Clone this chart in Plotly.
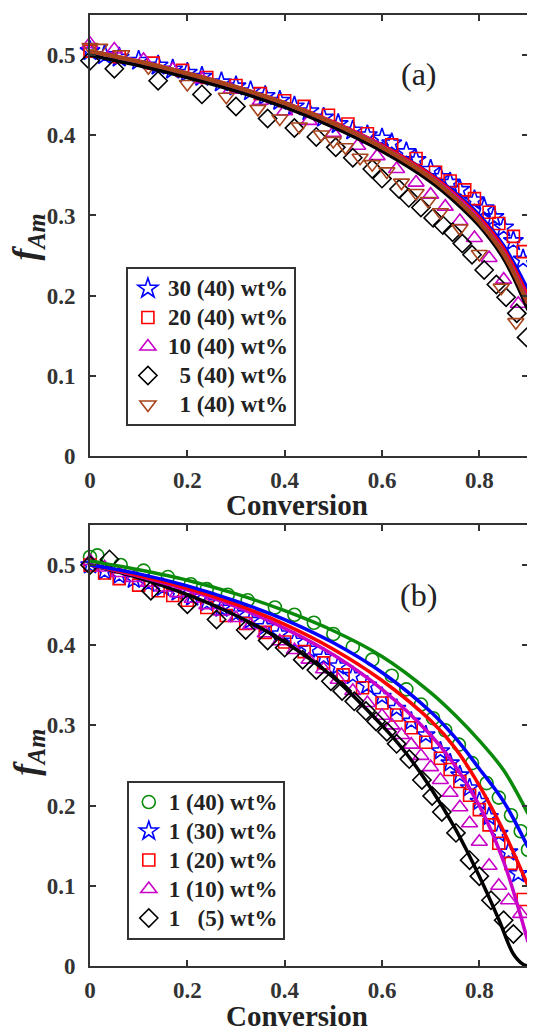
import plotly.graph_objects as go

# ---------------- data: panel (a) ----------------
a_labels = ["30 (40) wt%", "20 (40) wt%", "10 (40) wt%", "\u20075 (40) wt%", "\u20071 (40) wt%"]

a30_x = [0.00, 0.03, 0.06, 0.10, 0.14, 0.17, 0.20, 0.23, 0.27, 0.30, 0.33, 0.36, 0.39, 0.42, 0.45, 0.48, 0.51,
         0.54, 0.57, 0.60, 0.62, 0.65, 0.67, 0.70, 0.72, 0.74, 0.76, 0.79, 0.81, 0.83, 0.85, 0.87, 0.89]
a30_y = [0.505, 0.500, 0.497, 0.493, 0.487, 0.482, 0.478, 0.473, 0.466, 0.461, 0.455, 0.449, 0.443, 0.436, 0.430,
         0.422, 0.414, 0.406, 0.400, 0.396, 0.390, 0.379, 0.369, 0.357, 0.348, 0.341, 0.332, 0.319, 0.309, 0.298,
         0.285, 0.268, 0.245]

a20_x = [0.00, 0.06, 0.13, 0.19, 0.24, 0.30, 0.35, 0.40, 0.44, 0.49, 0.53, 0.57, 0.62, 0.67, 0.71, 0.74, 0.77,
         0.79, 0.82, 0.84, 0.87, 0.89]
a20_y = [0.505, 0.498, 0.490, 0.481, 0.472, 0.462, 0.452, 0.443, 0.436, 0.425, 0.414, 0.402, 0.388, 0.371, 0.354,
         0.343, 0.332, 0.321, 0.304, 0.290, 0.274, 0.255]

a10_x = [0.00, 0.05, 0.11, 0.17, 0.23, 0.29, 0.35, 0.40, 0.45, 0.50, 0.55, 0.59, 0.63, 0.67, 0.70, 0.73, 0.76,
         0.79, 0.82, 0.85, 0.88]
a10_y = [0.514, 0.507, 0.494, 0.482, 0.470, 0.457, 0.443, 0.430, 0.418, 0.403, 0.387, 0.374, 0.358, 0.341, 0.326,
         0.311, 0.293, 0.272, 0.247, 0.220, 0.190]

a5_x = [0.00, 0.05, 0.14, 0.23, 0.30, 0.365, 0.42, 0.465, 0.505, 0.54, 0.58, 0.60, 0.635, 0.655, 0.68, 0.705,
        0.725, 0.745, 0.765, 0.785, 0.81, 0.835, 0.855, 0.877, 0.897]
a5_y = [0.493, 0.483, 0.468, 0.451, 0.436, 0.421, 0.409, 0.398, 0.385, 0.372, 0.358, 0.346, 0.333, 0.322, 0.310,
        0.297, 0.288, 0.279, 0.265, 0.251, 0.232, 0.214, 0.198, 0.178, 0.148]

a1_x = [0.00, 0.02, 0.065, 0.12, 0.20, 0.28, 0.345, 0.39, 0.43, 0.475, 0.50, 0.525, 0.555, 0.58, 0.61, 0.64,
        0.67, 0.695, 0.72, 0.76, 0.80, 0.845, 0.875]
a1_y = [0.510, 0.509, 0.501, 0.485, 0.464, 0.448, 0.433, 0.421, 0.411, 0.401, 0.393, 0.385, 0.372, 0.364, 0.355,
        0.341, 0.328, 0.318, 0.304, 0.284, 0.252, 0.210, 0.167]

# fitted model curves, panel (a)
fit_x = [0.0, 0.1, 0.2, 0.3, 0.4, 0.5, 0.6, 0.7, 0.75, 0.8, 0.85, 0.9]
fa30 = [0.500, 0.488, 0.474, 0.458, 0.439, 0.416, 0.388, 0.352, 0.329, 0.301, 0.263, 0.208]
fa20 = [0.505, 0.492, 0.477, 0.460, 0.441, 0.417, 0.388, 0.351, 0.327, 0.298, 0.259, 0.200]
fa10 = [0.505, 0.493, 0.478, 0.461, 0.441, 0.416, 0.387, 0.349, 0.325, 0.295, 0.255, 0.195]
fa5 = [0.500, 0.487, 0.472, 0.455, 0.435, 0.410, 0.380, 0.342, 0.317, 0.287, 0.246, 0.182]
fa1 = [0.505, 0.492, 0.477, 0.460, 0.440, 0.415, 0.385, 0.347, 0.322, 0.292, 0.252, 0.190]

# ---------------- data: panel (b) ----------------
b_labels = ["1 (40) wt%", "1 (30) wt%", "1 (20) wt%", "1 (10) wt%", "1 \u2007(5) wt%"]

b40_x = [0.00, 0.015, 0.063, 0.11, 0.16, 0.207, 0.24, 0.283, 0.324, 0.38, 0.42, 0.46, 0.50, 0.54, 0.58, 0.62,
         0.65, 0.68, 0.705, 0.73, 0.758, 0.785, 0.815, 0.84, 0.865, 0.885, 0.90]
b40_y = [0.510, 0.512, 0.500, 0.493, 0.485, 0.476, 0.470, 0.463, 0.456, 0.447, 0.438, 0.428, 0.414, 0.398, 0.382,
         0.362, 0.345, 0.326, 0.309, 0.294, 0.276, 0.253, 0.228, 0.210, 0.188, 0.168, 0.145]

b30_x = [0.00, 0.03, 0.06, 0.09, 0.12, 0.15, 0.18, 0.21, 0.24, 0.27, 0.30, 0.33, 0.36, 0.39, 0.42, 0.45, 0.48,
         0.51, 0.54, 0.57, 0.60, 0.63, 0.66, 0.69, 0.72, 0.74, 0.76, 0.78, 0.80, 0.82, 0.84, 0.86, 0.88]
b30_y = [0.500, 0.492, 0.487, 0.482, 0.477, 0.472, 0.466, 0.460, 0.453, 0.446, 0.439, 0.431, 0.423, 0.414, 0.405,
         0.395, 0.385, 0.374, 0.362, 0.350, 0.336, 0.321, 0.305, 0.288, 0.268, 0.253, 0.238, 0.222, 0.205, 0.186,
         0.165, 0.142, 0.115]

b20_x = [0.00, 0.03, 0.06, 0.10, 0.14, 0.17, 0.20, 0.24, 0.28, 0.32, 0.36, 0.40, 0.44, 0.48, 0.52, 0.56, 0.60,
         0.63, 0.66, 0.69, 0.72, 0.74, 0.76, 0.78, 0.80, 0.82, 0.84, 0.865, 0.89]
b20_y = [0.500, 0.490, 0.483, 0.475, 0.468, 0.462, 0.456, 0.447, 0.437, 0.427, 0.416, 0.404, 0.392, 0.378, 0.363,
         0.347, 0.328, 0.313, 0.297, 0.279, 0.259, 0.245, 0.230, 0.213, 0.195, 0.176, 0.153, 0.128, 0.083]

b10_x = [0.00, 0.03, 0.06, 0.09, 0.12, 0.15, 0.18, 0.21, 0.24, 0.27, 0.30, 0.33, 0.36, 0.39, 0.42, 0.45, 0.48,
         0.51, 0.54, 0.57, 0.60, 0.62, 0.64, 0.66, 0.68, 0.70, 0.72, 0.74, 0.76, 0.78, 0.80, 0.82, 0.84, 0.86, 0.885]
b10_y = [0.505, 0.497, 0.490, 0.484, 0.478, 0.472, 0.465, 0.458, 0.450, 0.442, 0.434, 0.425, 0.415, 0.405, 0.394,
         0.382, 0.370, 0.357, 0.343, 0.328, 0.312, 0.300, 0.288, 0.276, 0.262, 0.248, 0.232, 0.216, 0.198, 0.178,
         0.155, 0.125, 0.100, 0.082, 0.065]

b5_x = [0.00, 0.04, 0.125, 0.20, 0.26, 0.32, 0.365, 0.40, 0.437, 0.465, 0.495, 0.518, 0.543, 0.567, 0.588, 0.61,
        0.63, 0.656, 0.682, 0.703, 0.723, 0.752, 0.78, 0.80, 0.824, 0.85, 0.87]
b5_y = [0.500, 0.507, 0.468, 0.451, 0.432, 0.419, 0.406, 0.397, 0.382, 0.369, 0.355, 0.343, 0.330, 0.318, 0.305,
        0.292, 0.277, 0.258, 0.232, 0.212, 0.192, 0.166, 0.132, 0.112, 0.082, 0.057, 0.040]

# fitted model curves, panel (b)
fb40 = [0.505, 0.494, 0.481, 0.464, 0.443, 0.418, 0.386, 0.341, 0.313, 0.281, 0.244, 0.190]
fb30 = [0.500, 0.489, 0.474, 0.455, 0.432, 0.403, 0.366, 0.317, 0.285, 0.246, 0.205, 0.148]
fb20 = [0.500, 0.487, 0.471, 0.451, 0.426, 0.395, 0.356, 0.306, 0.272, 0.225, 0.168, 0.100]
fb10 = [0.500, 0.486, 0.469, 0.448, 0.421, 0.388, 0.345, 0.288, 0.250, 0.200, 0.130, 0.030]
fb5_x = [0.0, 0.1, 0.2, 0.3, 0.4, 0.5, 0.6, 0.65, 0.7, 0.75, 0.8, 0.84, 0.87, 0.89, 0.9]
fb5 = [0.500, 0.484, 0.463, 0.437, 0.404, 0.360, 0.300, 0.265, 0.222, 0.172, 0.112, 0.058, 0.015, 0.002, 0.0]

x_ticks = [0, 0.2, 0.4, 0.6, 0.8]
x_ticktext = ["0", "0.2", "0.4", "0.6", "0.8"]
y_ticks = [0, 0.1, 0.2, 0.3, 0.4, 0.5]
y_ticktext = ["0", "0.1", "0.2", "0.3", "0.4", "0.5"]

# ---------------- styling ----------------
BLUE = "#0000FF"
RED = "#FF0000"
MAG = "#C800C8"
BLACK = "#000000"
BROWN = "#A8441C"
GREEN = "#0A8A0A"
FONT = "Liberation Serif"

fig = go.Figure()


def legend_text(s):
    return '<span style="font-size:23px">' + s + "</span>"


def add_markers(x, y, name, color, symbol, xa, ya, legend, size=13):
    fig.add_trace(go.Scatter(
        x=x, y=y, mode="markers", name=legend_text(name), xaxis=xa, yaxis=ya, legend=legend,
        legendgroup=name, cliponaxis=False,
        marker=dict(symbol=symbol, size=size, color=color, line=dict(width=1.6)),
    ))


def add_line(x, y, color, width, xa, ya):
    fig.add_trace(go.Scatter(
        x=x, y=y, mode="lines", showlegend=False, xaxis=xa, yaxis=ya,
        line=dict(color=color, width=width, shape="spline", smoothing=1.0),
        hoverinfo="skip",
    ))


# panel (a) markers
add_markers(a30_x, a30_y, a_labels[0], BLUE, "star-open", "x", "y", "legend", 15)
add_markers(a20_x, a20_y, a_labels[1], RED, "square-open", "x", "y", "legend", 12)
add_markers(a10_x, a10_y, a_labels[2], MAG, "triangle-up-open", "x", "y", "legend", 14)
add_markers(a5_x, a5_y, a_labels[3], BLACK, "diamond-open", "x", "y", "legend", 14)
add_markers(a1_x, a1_y, a_labels[4], BROWN, "triangle-down-open", "x", "y", "legend", 14)
# panel (a) lines
add_line(fit_x, fa30, BLUE, 3, "x", "y")
add_line(fit_x, fa5, BLACK, 3.5, "x", "y")
add_line(fit_x, fa20, RED, 3, "x", "y")
add_line(fit_x, fa10, MAG, 3, "x", "y")
add_line(fit_x, fa1, BROWN, 4.5, "x", "y")

# panel (b) markers
add_markers(b40_x, b40_y, b_labels[0], GREEN, "circle-open", "x2", "y2", "legend2", 13)
add_markers(b30_x, b30_y, b_labels[1], BLUE, "star-open", "x2", "y2", "legend2", 14)
add_markers(b20_x, b20_y, b_labels[2], RED, "square-open", "x2", "y2", "legend2", 12)
add_markers(b10_x, b10_y, b_labels[3], MAG, "triangle-up-open", "x2", "y2", "legend2", 14)
add_markers(b5_x, b5_y, b_labels[4], BLACK, "diamond-open", "x2", "y2", "legend2", 14)
# panel (b) lines
add_line(fb5_x, fb5, BLACK, 3.5, "x2", "y2")
add_line(fit_x, fb10, MAG, 3.5, "x2", "y2")
add_line(fit_x, fb20, RED, 3.5, "x2", "y2")
add_line(fit_x, fb30, BLUE, 3.5, "x2", "y2")
add_line(fit_x, fb40, GREEN, 3.5, "x2", "y2")

tickfont = dict(family=FONT, size=23, color="#333333", weight="bold")
axis_common = dict(
    showgrid=False, zeroline=False, showline=True, linecolor="#333333", linewidth=2,
    mirror="ticks", ticks="inside", ticklen=6, tickwidth=1.5, tickcolor="#333333",
    tickfont=tickfont,
)
xcommon = dict(axis_common, range=[0, 0.9], tickvals=x_ticks, ticktext=x_ticktext, ticklabelstandoff=2)
ycommon = dict(axis_common, range=[0, 0.55], tickvals=y_ticks, ticktext=y_ticktext, ticklabelstandoff=8)

legend_common = dict(
    xanchor="left", yanchor="top", bgcolor="white", bordercolor="#333333", borderwidth=2,
    font=dict(family=FONT, size=20, color="#222222", weight="bold"),
    tracegroupgap=0, itemwidth=30, itemclick=False,
)

ytitle_font = dict(family=FONT, size=35, color="#222222", weight="bold")
xtitle_font = dict(family=FONT, size=29, color="#222222", weight="bold")

# the page body adds an 8px offset; width/height/margins compensate for it
fig.update_layout(
    width=527, height=1022, autosize=False,
    margin=dict(l=82, r=6, t=5, b=64),
    paper_bgcolor="white", plot_bgcolor="white",
    xaxis=dict(xcommon, domain=[0, 1], anchor="y"),
    yaxis=dict(ycommon, domain=[0.5362, 1], anchor="x"),
    xaxis2=dict(xcommon, domain=[0, 1], anchor="y2"),
    yaxis2=dict(ycommon, domain=[0, 0.4638], anchor="x2"),
    legend=dict(legend_common, x=0.082, y=0.735),
    legend2=dict(legend_common, x=0.084, y=0.195),
    annotations=[
        dict(text="(a)", x=0.676, y=0.476, xref="x", yref="y", showarrow=False,
             font=dict(family=FONT, size=32, color="#222222")),
        dict(text="(b)", x=0.674, y=0.462, xref="x2", yref="y2", showarrow=False,
             font=dict(family=FONT, size=32, color="#222222")),
        dict(text="<i>f<sub>Am</sub></i>", x=-0.142, y=0.767, xref="paper", yref="paper",
             textangle=-90, showarrow=False, xanchor="center", yanchor="middle", font=ytitle_font),
        dict(text="<i>f<sub>Am</sub></i>", x=-0.142, y=0.225, xref="paper", yref="paper",
             textangle=-90, showarrow=False, xanchor="center", yanchor="middle", font=ytitle_font),
        dict(text="Conversion", x=0.4715, y=0.4845, xref="paper", yref="paper",
             showarrow=False, xanchor="center", yanchor="middle", font=xtitle_font),
        dict(text="Conversion", x=0.4715, y=-0.0525, xref="paper", yref="paper",
             showarrow=False, xanchor="center", yanchor="middle", font=xtitle_font),
    ],
)

fig.write_html("out.html")
